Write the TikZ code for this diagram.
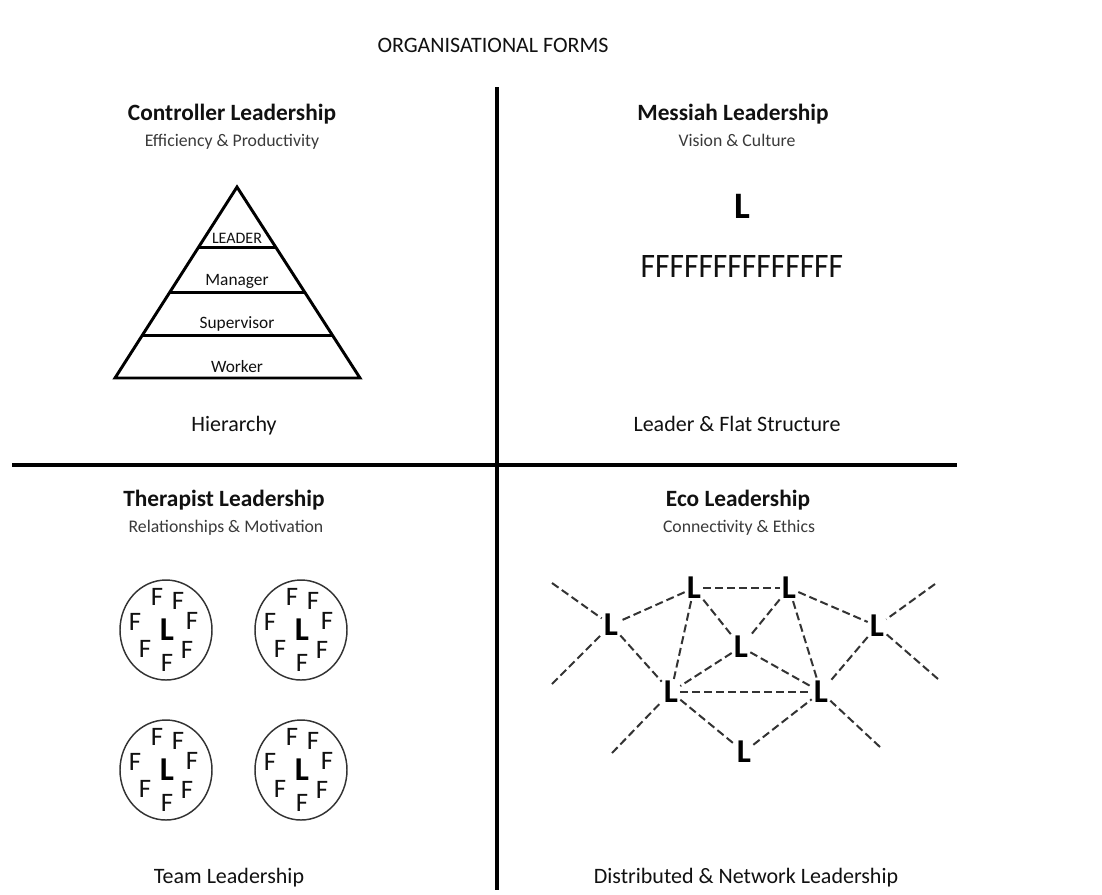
\documentclass[tikz,border=0pt]{standalone}
\usepackage{fontspec}
\usepackage{graphicx}
\setmainfont{Carlito}
\usetikzlibrary{shapes.geometric,calc}
\definecolor{ink}{HTML}{111111}
\definecolor{soft}{HTML}{3A3A3A}
\definecolor{wire}{HTML}{333333}

% one team: an ellipse with a leader in the middle and seven followers round it
\newcommand{\teamgroup}[3]{%
  \begin{scope}[shift={(#2,#3)}]
    \node[team] (#1) at (0,0) {};
    \node[teamL] (#1-l)  at (1,0)    {L};
    \node[teamF] (#1-f1) at (-9,-33) {F};
    \node[teamF] (#1-f2) at (12,-29) {F};
    \node[teamF] (#1-f3) at (-31,-8) {F};
    \node[teamF] (#1-f4) at (26,-9)  {F};
    \node[teamF] (#1-f5) at (-21,19) {F};
    \node[teamF] (#1-f6) at (21,20)  {F};
    \node[teamF] (#1-f7) at (1,33)   {F};
  \end{scope}}

\begin{document}
\begin{tikzpicture}[x=0.75pt,y=-0.75pt,
  title/.style={font=\fontsize{16.5}{20}\selectfont, text=ink, anchor=base, inner sep=0pt},
  heading/.style={font=\fontsize{17.5}{21}\bfseries\selectfont, text=ink, anchor=base, inner sep=0pt},
  subhead/.style={font=\fontsize{13.3}{16}\selectfont, text=soft, anchor=base, inner sep=0pt},
  caption/.style={font=\fontsize{16.5}{20}\selectfont, text=ink, anchor=base, inner sep=0pt},
  tier/.style={font=\fontsize{13}{16}\selectfont, text=ink, anchor=base, inner sep=0pt},
  divider/.style={line width=2.4pt, draw=black},
  pyr/.style={line width=2.2pt, draw=black},
  bigL/.style={font=\fontsize{25}{30}\bfseries\selectfont, text=black, inner sep=1.5pt},
  teamL/.style={font=\fontsize{25}{30}\bfseries\selectfont, text=black, inner sep=0pt},
  teamF/.style={font=\fontsize{20}{24}\selectfont, text=ink, inner sep=0pt},
  team/.style={draw=wire, line width=1.1pt, ellipse, minimum width=69pt, minimum height=75pt, inner sep=0pt},
  link/.style={draw=wire, line width=1.5pt, dash pattern=on 6pt off 3pt},
]
\useasboundingbox (0,0) rectangle (1102,894);
\fill[white] (0,0) rectangle (1102,894);

% title
\node[title] (title) at (493,52) {ORGANISATIONAL FORMS};

% quadrant dividers
\coordinate (vtop) at (497,87);
\coordinate (vbot) at (497,890);
\coordinate (hl) at (12,465);
\coordinate (hr) at (957,465);
\draw[divider] (vtop) -- (vbot);
\draw[divider] (hl) -- (hr);

% ---------- Controller leadership ----------
\node[heading] (ctl-h) at (232,120) {Controller Leadership};
\node[subhead] (ctl-s) at (232,146) {Efficiency \& Productivity};
\coordinate (apex) at (237,187);
\coordinate (bl) at (115,378);
\coordinate (br) at (360,378);
\draw[pyr, line join=miter] (apex) -- (br) -- (bl) -- cycle;
\foreach \t in {0.319,0.550,0.775}
  \draw[pyr] ($(apex)!\t!(bl)$) -- ($(apex)!\t!(br)$);
\node[tier, font=\fontsize{12}{14}\selectfont] (t1) at (237,243.5) {LEADER};
\node[tier] (t2) at (237,285) {Manager};
\node[tier] (t3) at (237,328) {Supervisor};
\node[tier] (t4) at (237,372) {Worker};
\node[caption] (ctl-c) at (234,431) {Hierarchy};

% ---------- Messiah leadership ----------
\node[heading] (mes-h) at (733,120) {Messiah Leadership};
\node[subhead] (mes-s) at (737,146) {Vision \& Culture};
\node[anchor=base, inner sep=0pt, font=\fontsize{28}{32}\bfseries\selectfont] (mes-l) at (742,218) {L};
\node[anchor=base, inner sep=0pt, font=\fontsize{24}{28}\selectfont, text=ink] (mes-f) at (742,277)
  {\resizebox{152pt}{16.5pt}{FFFFFFFFFFFFFF}};
\node[caption] (mes-c) at (737,431) {Leader \& Flat Structure};

% ---------- Therapist leadership ----------
\node[heading] (thr-h) at (224,506) {Therapist Leadership};
\node[subhead] (thr-s) at (226,532) {Relationships \& Motivation};
\teamgroup{ta}{166}{630}
\teamgroup{tb}{301}{630}
\teamgroup{tc}{166}{770}
\teamgroup{td}{301}{770}
\node[caption] (thr-c) at (229,883) {Team Leadership};

% ---------- Eco leadership ----------
\node[heading] (eco-h) at (738,506) {Eco Leadership};
\node[subhead] (eco-s) at (739,532) {Connectivity \& Ethics};
\node[bigL] (n1) at (694,588) {L};
\node[bigL] (n2) at (789,588) {L};
\node[bigL] (n3) at (611,625) {L};
\node[bigL] (n4) at (741,647) {L};
\node[bigL] (n5) at (877,626) {L};
\node[bigL] (n6) at (671,692) {L};
\node[bigL] (n7) at (821,692) {L};
\node[bigL] (n8) at (744,752) {L};
\coordinate (e1) at (552,583);
\coordinate (e2) at (552,684);
\coordinate (e3) at (935,584);
\coordinate (e4) at (938,679);
\coordinate (e5) at (612,753);
\coordinate (e6) at (880,747);
\draw[link] (n1) -- (n2);
\draw[link] (n1) -- (n3);
\draw[link] (n1) -- (n4);
\draw[link] (n1) -- (n6);
\draw[link] (n2) -- (n4);
\draw[link] (n2) -- (n7);
\draw[link] (n2) -- (n5);
\draw[link] (n3) -- (n6);
\draw[link] (n4) -- (n6);
\draw[link] (n4) -- (n7);
\draw[link] (n6) -- (n7);
\draw[link] (n6) -- (n8);
\draw[link] (n8) -- (n7);
\draw[link] (n5) -- (n7);
\draw[link] (e1) -- (n3);
\draw[link] (e2) -- (n3);
\draw[link] (e3) -- (n5);
\draw[link] (e4) -- (n5);
\draw[link] (e5) -- (n6);
\draw[link] (e6) -- (n7);
\node[caption] (eco-c) at (746,883) {Distributed \& Network Leadership};
\end{tikzpicture}
\end{document}
